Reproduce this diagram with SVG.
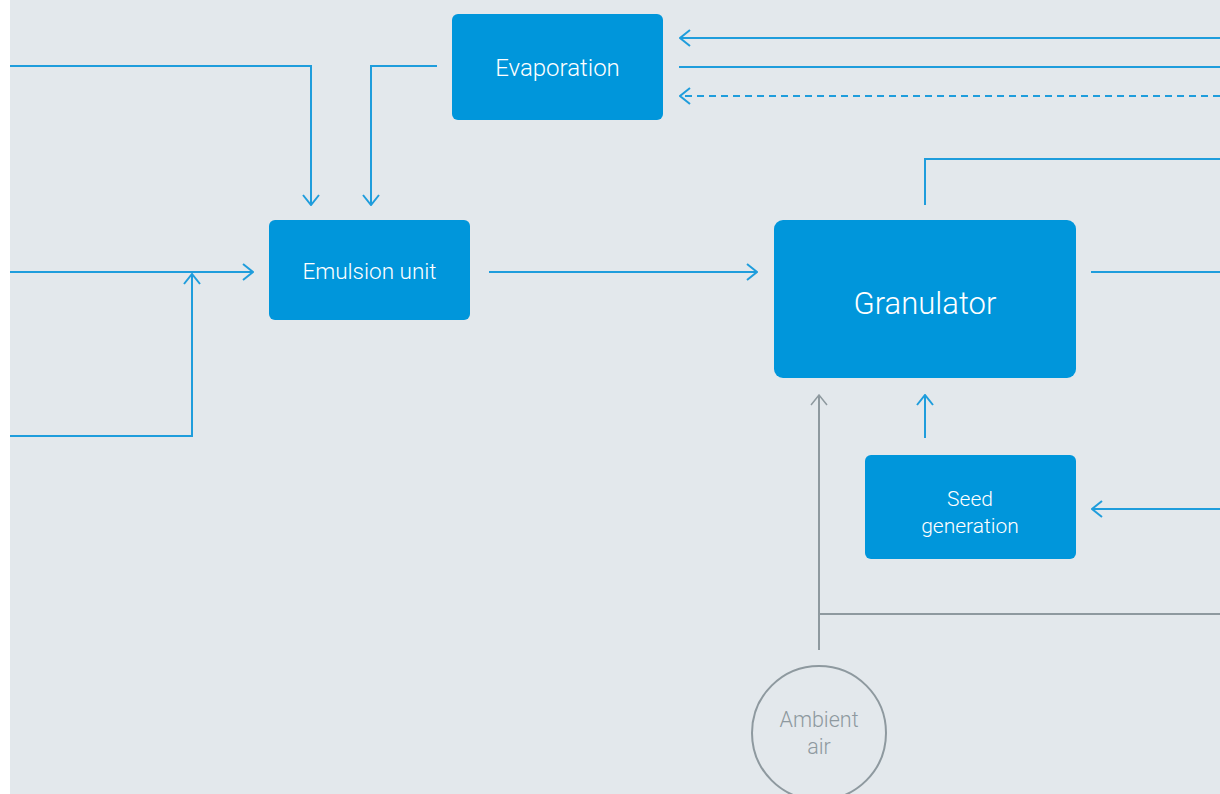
<svg xmlns="http://www.w3.org/2000/svg" width="1220" height="794" viewBox="0 0 1220 794">
<defs>
<style>
.box{fill:#0096db}
.lbl{fill:#ffffff;font-family:Roboto,"Liberation Sans",sans-serif;font-weight:300;text-anchor:middle}
.ln{fill:none;stroke:#1f9ddc;stroke-width:2}
.dash{stroke-dasharray:7 5}
.gr{fill:none;stroke:#8e999f;stroke-width:2}
.glbl{fill:#8e999f;font-family:Roboto,"Liberation Sans",sans-serif;font-weight:300;text-anchor:middle;font-size:21.5px}
</style>
<marker id="a" viewBox="0 0 12 18" refX="11" refY="9" markerWidth="12" markerHeight="18" markerUnits="userSpaceOnUse" orient="auto">
<path d="M1,1 L11,9 L1,17" fill="none" stroke="#1f9ddc" stroke-width="2"/>
</marker>
<marker id="g" viewBox="0 0 12 18" refX="11" refY="9" markerWidth="12" markerHeight="18" markerUnits="userSpaceOnUse" orient="auto">
<path d="M1,1 L11,9 L1,17" fill="none" stroke="#8e999f" stroke-width="1.5"/>
</marker>
</defs>
<rect x="0" y="0" width="1220" height="794" fill="#ffffff"/>
<rect x="10" y="0" width="1210" height="794" fill="#e3e8ec"/>
<g id="connectors">
<path class="ln" d="M10,66 H311 V205" marker-end="url(#a)"/>
<path class="ln" d="M437,66 H371 V205" marker-end="url(#a)"/>
<path class="ln" d="M10,272 H253" marker-end="url(#a)"/>
<path class="ln" d="M10,436 H192 V274" marker-end="url(#a)"/>
<path class="ln" d="M489,272 H757" marker-end="url(#a)"/>
<path class="ln" d="M1220,38 H680" marker-end="url(#a)"/>
<path class="ln" d="M679,67 H1220"/>
<path class="ln dash" d="M1220,96 H680" marker-end="url(#a)"/>
<path class="ln" d="M925,205 V159 H1220"/>
<path class="ln" d="M1091,272 H1220"/>
<path class="ln" d="M925,438 V395" marker-end="url(#a)"/>
<path class="ln" d="M1220,509 H1092" marker-end="url(#a)"/>
<path class="gr" d="M819,650 V395" marker-end="url(#g)"/>
<path class="gr" d="M819,614 H1220"/>
</g>
<g id="evaporation">
<rect class="box" x="452" y="14" width="211" height="106" rx="6"/>
<text class="lbl" x="557.5" y="76" font-size="24">Evaporation</text>
</g>
<g id="emulsion">
<rect class="box" x="269" y="220" width="201" height="100" rx="6"/>
<text class="lbl" x="369.5" y="279" font-size="22.5">Emulsion unit</text>
</g>
<g id="granulator">
<rect class="box" x="774" y="220" width="302" height="158" rx="9"/>
<text class="lbl" x="925" y="314" font-size="31">Granulator</text>
</g>
<g id="seed">
<rect class="box" x="865" y="455" width="211" height="104" rx="6"/>
<text class="lbl" x="970" y="506" font-size="21">Seed</text>
<text class="lbl" x="970" y="533" font-size="21">generation</text>
</g>
<g id="ambient">
<circle cx="819" cy="733" r="67" fill="none" stroke="#8e999f" stroke-width="2"/>
<text class="glbl" x="819" y="727">Ambient</text>
<text class="glbl" x="819" y="754">air</text>
</g>
</svg>
